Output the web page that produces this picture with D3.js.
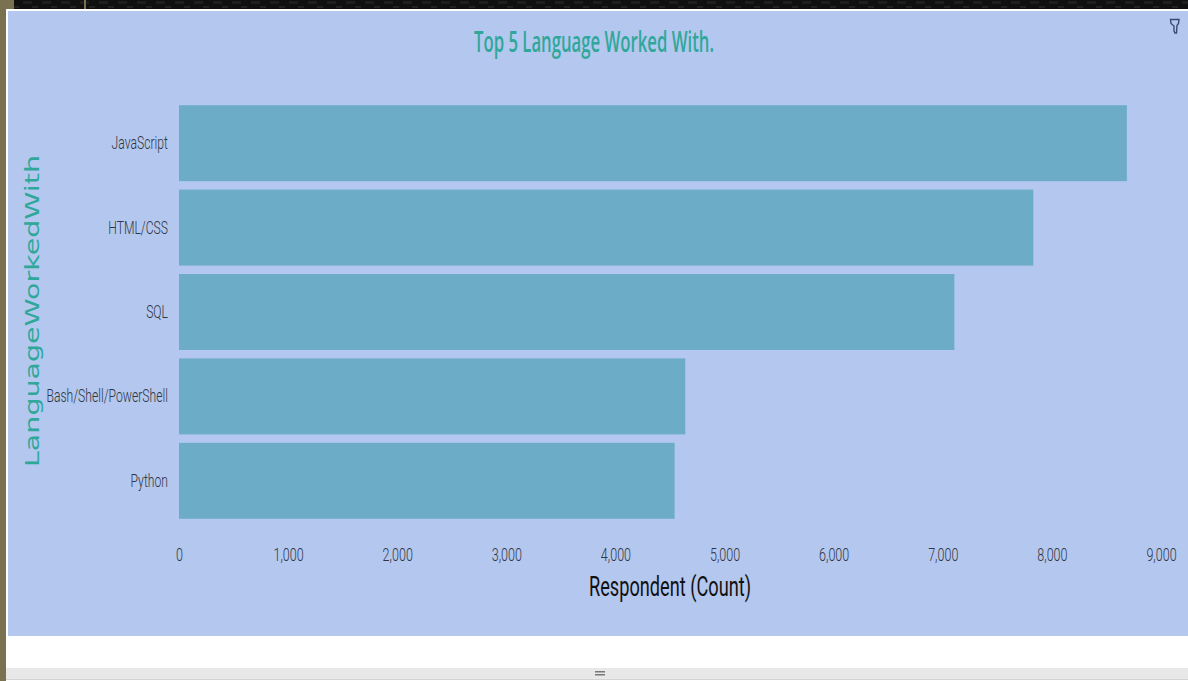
<!DOCTYPE html>
<html><head><meta charset="utf-8">
<script src="https://cdn.jsdelivr.net/npm/d3@7/dist/d3.min.js"></script>
<style>html,body{margin:0;padding:0;background:#fff;overflow:hidden}svg{display:block}</style>
</head><body><svg id="c" width="1188" height="681"></svg>
<script>
const categories = ["JavaScript","HTML/CSS","SQL","Bash/Shell/PowerShell","Python"];
const counts = [8687,7830,7106,4640,4542];
const xTicks = [0,1000,2000,3000,4000,5000,6000,7000,8000,9000];
const titleText = "Top 5 Language Worked With.";
const xTitle = "Respondent (Count)";
const yTitle = "LanguageWorkedWith";

const sans = "Roboto,'Liberation Sans',sans-serif";
const svg = d3.select("#c");
const defs = svg.append("defs");
const pat = defs.append("pattern").attr("id","strip").attr("patternUnits","userSpaceOnUse").attr("width",19).attr("height",9);
pat.append("rect").attr("width",19).attr("height",9).attr("fill","#101010");
pat.append("rect").attr("x",4).attr("y",1).attr("width",9).attr("height",3).attr("fill","#1e1e1e");
pat.append("rect").attr("x",13).attr("y",6).attr("width",6).attr("height",2).attr("fill","#222");
// page chrome
svg.append("rect").attr("x",0).attr("y",0).attr("width",1188).attr("height",9).attr("fill","url(#strip)");
svg.append("rect").attr("x",0).attr("y",0).attr("width",14).attr("height",9).attr("fill","#7a7150");
svg.append("rect").attr("x",84).attr("y",0).attr("width",2).attr("height",9).attr("fill","#7a7150");
svg.append("rect").attr("x",0).attr("y",0).attr("width",6).attr("height",681).attr("fill","#7a7150");
svg.append("rect").attr("x",6).attr("y",9).attr("width",1182).attr("height",672).attr("fill","#fff");
svg.append("rect").attr("x",8).attr("y",11).attr("width",1180).attr("height",625).attr("fill","#b4c7ee");
svg.append("rect").attr("x",6).attr("y",668).attr("width",1182).attr("height",11).attr("fill","#e8e8e8");
svg.append("rect").attr("x",6).attr("y",679).attr("width",1182).attr("height",1).attr("fill","#d4d4d4");
svg.append("rect").attr("x",595).attr("y",671).attr("width",10).attr("height",1.5).attr("fill","#777");
svg.append("rect").attr("x",595).attr("y",674).attr("width",10).attr("height",1.5).attr("fill","#777");

const x = d3.scaleLinear().domain([0,9000]).range([179,1161]);
const y = d3.scaleBand().domain(categories).range([101,523]).paddingInner(0.1).paddingOuter(0.05);

svg.append("g").selectAll("rect").data(categories).join("rect")
  .attr("x",x(0)).attr("y",d=>y(d))
  .attr("width",(d,i)=>x(counts[i])-x(0)).attr("height",y.bandwidth())
  .attr("fill","#6dacc6");

function squeeze(sel, k){
  sel.each(function(){
    const w = this.getComputedTextLength();
    d3.select(this).attr("textLength",w*k).attr("lengthAdjust","spacingAndGlyphs");
  });
}
const yAxis = svg.append("g").attr("transform","translate(179,0)")
  .call(d3.axisLeft(y).tickSize(0).tickPadding(11));
yAxis.select(".domain").remove();
yAxis.selectAll("text").attr("font-family",sans).attr("font-size",19).attr("font-weight",300).attr("fill","#2f3542").call(squeeze,0.64);

const xAxis = svg.append("g").attr("transform","translate(0,547)")
  .call(d3.axisBottom(x).tickValues(xTicks).tickFormat(d3.format(",")).tickSize(0).tickPadding(0));
xAxis.select(".domain").remove();
xAxis.selectAll("text").attr("font-family",sans).attr("font-size",19).attr("font-weight",300).attr("fill","#2f3542").call(squeeze,0.66);

svg.append("text").attr("x",594).attr("y",52).attr("text-anchor","middle")
  .attr("font-family","'Open Sans',sans-serif").attr("font-size",28).attr("font-weight",600)
  .attr("fill","#2fa89a").attr("textLength",240).attr("lengthAdjust","spacingAndGlyphs").text(titleText);
svg.append("text").attr("x",670).attr("y",596).attr("text-anchor","middle")
  .attr("font-family",sans).attr("font-size",28).attr("fill","#111")
  .attr("textLength",162).attr("lengthAdjust","spacingAndGlyphs").text(xTitle);
svg.append("text").attr("transform","translate(39,311) rotate(-90)").attr("text-anchor","middle")
  .attr("font-family","'DejaVu Sans',sans-serif").attr("font-size",20).attr("fill","#2fa89a")
  .attr("textLength",312).attr("lengthAdjust","spacingAndGlyphs").text(yTitle);

// filter icon
svg.append("path").attr("d","M1170.5 19.5h8.5l-.5 4-1.5 2-.5 7.5h-1.5l-1-2v-5l-3-2.5z")
  .attr("fill","none").attr("stroke","#3a4a6e").attr("stroke-width",1.4);
</script></body></html>
